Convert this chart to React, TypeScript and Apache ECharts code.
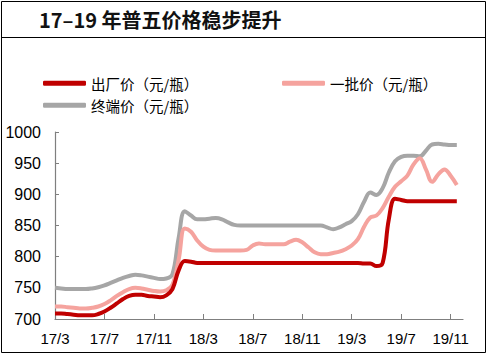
import React, { useEffect, useRef } from "react";
import * as echarts from "echarts";

// Monthly tick months (each month split in two half-month points)
const months = [
  "17/3", "17/4", "17/5", "17/6", "17/7", "17/8", "17/9", "17/10", "17/11", "17/12",
  "18/1", "18/2", "18/3", "18/4", "18/5", "18/6", "18/7", "18/8", "18/9", "18/10", "18/11", "18/12",
  "19/1", "19/2", "19/3", "19/4", "19/5", "19/6", "19/7", "19/8", "19/9", "19/10", "19/11", "19/12",
];

// half-month categories: "17/3", "17/3下", ... ending at "19/12"
const categories: string[] = [];
months.forEach((m, i) => {
  categories.push(m);
  if (i < months.length - 1) categories.push(m + "下");
});

const factoryPrice = [
  709, 709, 708, 707, 706, 706, 706, 708, 712, 718,
  725, 732, 737, 739, 739, 737, 736, 735, 738, 748,
  778, 793, 792, 790, 790, 790, 790, 790, 790, 790,
  790, 790, 790, 790, 790, 790, 790, 790, 790, 790,
  790, 790, 790, 790, 790, 790, 790, 790, 790, 790,
  789, 789, 785, 790, 860, 893, 891, 889, 889, 889,
  889, 889, 889, 889, 889, 889,
];

const wholesalePrice = [
  720, 720, 719, 718, 717, 717, 718, 720, 724, 730,
  737, 743, 748, 750, 749, 747, 745, 744, 746, 755,
  795, 845, 840, 826, 816, 811, 810, 810, 810, 810,
  810, 811, 818, 821, 820, 820, 820, 820, 824, 827,
  823, 815, 807, 804, 804, 806, 808, 812, 818, 828,
  848, 863, 866, 878, 896, 912, 921, 930, 948, 958,
  940, 920, 932, 940, 930, 915,
];

const retailPrice = [
  750, 749, 748, 748, 748, 748, 749, 751, 754, 758,
  762, 766, 769, 771, 770, 768, 766, 764, 765, 772,
  830, 873, 866, 860, 860, 861, 862, 860, 855, 851,
  850, 850, 850, 850, 850, 850, 850, 850, 850, 850,
  850, 850, 850, 850, 847, 844, 847, 852, 857, 868,
  888, 903, 899, 910, 935, 953, 960, 962, 962, 961,
  970, 980, 981, 980, 979, 979,
];

const yTicks = { min: 700, max: 1000, interval: 50 };

const NAME_FACTORY = "出厂价（元/瓶）";
const NAME_WHOLESALE = "一批价（元/瓶）";
const NAME_RETAIL = "终端价（元/瓶）";
const TITLE = "17–19 年普五价格稳步提升";

const RED = "#C00000";
const PINK = "#F5A39E";
const GRAY = "#A6A6A6";

export default function App() {
  const ref = useRef<HTMLDivElement>(null);
  useEffect(() => {
    if (!ref.current) return;
    const chart = echarts.init(ref.current, undefined, { renderer: "svg" });
    const cjk = "'Noto Sans CJK SC', 'Noto Sans', sans-serif";
    const num = "'Liberation Sans', Arial, sans-serif";
    const legendCommon = {
      itemWidth: 43,
      itemHeight: 5,
      icon: "roundRect",
      textStyle: { fontFamily: cjk, fontSize: 14.5, color: "#000" },
    };
    chart.setOption({
      animation: false,
      backgroundColor: "#fff",
      title: {
        text: TITLE,
        left: 34,
        top: 4,
        textStyle: { fontFamily: cjk, fontSize: 20, fontWeight: "bold", color: "#111" },
      },
      graphic: [
        {
          type: "rect",
          shape: { x: 1.5, y: 1.5, width: 484, height: 351 },
          style: { fill: "none", stroke: "#000", lineWidth: 1 },
          silent: true,
        },
        {
          type: "line",
          shape: { x1: 1.5, y1: 37.5, x2: 485.5, y2: 37.5 },
          style: { stroke: "#000", lineWidth: 1 },
          silent: true,
        },
      ],
      legend: [
        { ...legendCommon, data: [NAME_FACTORY], left: 38, top: 71 },
        { ...legendCommon, data: [NAME_WHOLESALE], left: 277, top: 71 },
        { ...legendCommon, data: [NAME_RETAIL], left: 38, top: 93 },
      ],
      grid: { left: 55, right: 24, top: 132, bottom: 35, containLabel: false },
      xAxis: {
        type: "category",
        data: categories,
        boundaryGap: false,
        axisLine: { lineStyle: { color: "#7f7f7f", width: 1.2 } },
        axisTick: { inside: true, length: 5, interval: 7, lineStyle: { color: "#7f7f7f" } },
        axisLabel: {
          interval: 7,
          margin: 12,
          fontFamily: num,
          fontSize: 15,
          color: "#000",
        },
        splitLine: { show: false },
      },
      yAxis: {
        type: "value",
        min: yTicks.min,
        max: yTicks.max,
        interval: yTicks.interval,
        axisLine: { show: true, lineStyle: { color: "#7f7f7f", width: 1.2 } },
        axisTick: { show: true, inside: true, length: 4, lineStyle: { color: "#7f7f7f" } },
        axisLabel: {
          margin: 14,
          fontFamily: num,
          fontSize: 16,
          color: "#000",
          formatter: (v: number) => String(v),
        },
        splitLine: { show: false },
      },
      series: [
        {
          name: NAME_RETAIL,
          type: "line",
          data: retailPrice,
          smooth: 0.4,
          symbol: "none",
          lineStyle: { color: GRAY, width: 4 },
          itemStyle: { color: GRAY },
        },
        {
          name: NAME_WHOLESALE,
          type: "line",
          data: wholesalePrice,
          smooth: 0.4,
          symbol: "none",
          lineStyle: { color: PINK, width: 4 },
          itemStyle: { color: PINK },
        },
        {
          name: NAME_FACTORY,
          type: "line",
          data: factoryPrice,
          smooth: 0.4,
          symbol: "none",
          lineStyle: { color: RED, width: 4 },
          itemStyle: { color: RED },
        },
      ],
    });
    return () => chart.dispose();
  }, []);
  return (
    <div
      ref={ref}
      style={{ position: "fixed", left: 0, top: 0, width: 487, height: 354 }}
    />
  );
}
